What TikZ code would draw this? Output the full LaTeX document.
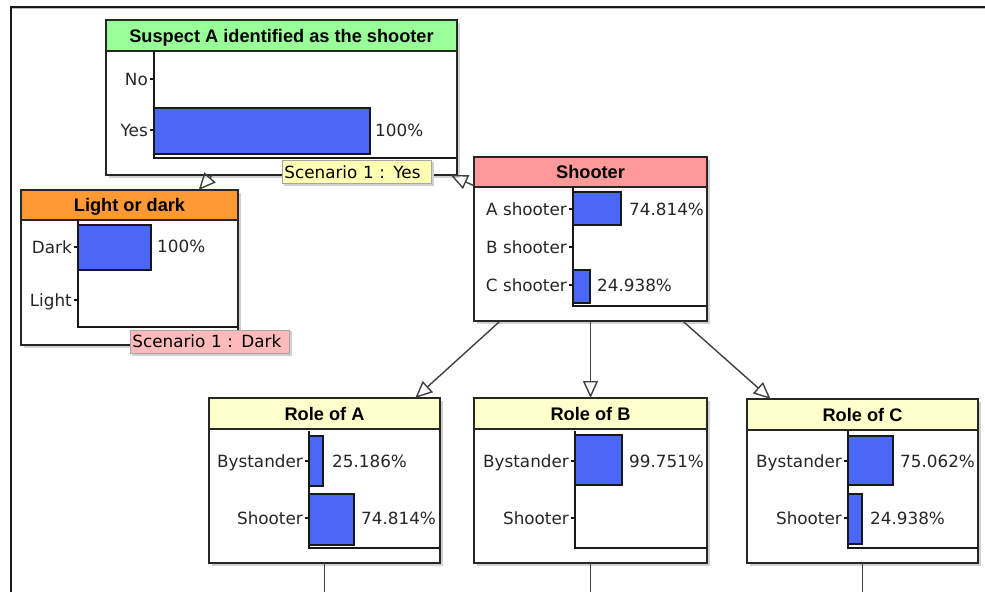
\documentclass[tikz,border=0pt]{standalone}
\usepackage{fontspec}
\setmainfont{DejaVu Sans}
\newfontfamily\headfont{Liberation Sans}
\usetikzlibrary{arrows.meta,calc,positioning}
\definecolor{hdrgreen}{RGB}{153,255,153}
\definecolor{hdrorange}{RGB}{255,153,51}
\definecolor{hdrpink}{RGB}{255,153,153}
\definecolor{hdryellow}{RGB}{255,255,204}
\definecolor{barblue}{RGB}{74,104,245}
\definecolor{scenyellow}{RGB}{255,255,180}
\definecolor{scenpink}{RGB}{255,187,187}
\tikzset{
  line join=miter,
  boxline/.style={draw=black!85, line width=1.5pt},
  nodebox/.style={boxline, fill=white, inner sep=0pt, outer sep=0pt},
  dropshade/.style={fill=black!18},
  headtext/.style={font=\headfont\bfseries\fontsize{18.2}{20}\selectfont, inner sep=0pt, anchor=base},
  statetext/.style={font=\fontsize{16.8}{19}\selectfont, text=black!85, inner sep=0pt, anchor=base east},
  valtext/.style={font=\fontsize{16.8}{19}\selectfont, text=black!85, inner sep=0pt, anchor=base west},
  probbar/.style={draw=black!90, line width=1.3pt, fill=barblue},
  axisline/.style={draw=black!90, line width=1.3pt},
  linkline/.style={draw=black!75, line width=1.4pt},
  link/.style={linkline, -{Triangle[open, length=17pt, width=15pt, line width=1.4pt]}},
  scenario/.style={draw=black!35, line width=0.8pt, inner xsep=2pt, inner ysep=0pt,
    minimum height=23pt, align=left, anchor=north west, font=\fontsize{16.8}{19}\selectfont}
}
% node frame: name, left, top, right, bottom, header bottom, colour, title
\newcommand{\bnnode}[8]{%
  \fill[dropshade] (#2+3,#3+3) rectangle (#4+3,#5+3);
  \node[nodebox, minimum width=#4-#2, minimum height=#5-#3] (#1) at ({(#2+#4)/2},{(#3+#5)/2}) {};
  \draw[boxline, fill=#7] (#2,#3) rectangle (#4,#6);
  \node[headtext] at ({(#2+#4)/2},{(#3+#6)/2+6.5}) {#8};
}
% tick and state name: axis x, row y, name
\newcommand{\staterow}[3]{%
  \draw[axisline] (#1-4,#2) -- (#1,#2);
  \node[statetext] at (#1-6,#2+6) {#3};
}
% bar and value: axis x, bar top, bar right, bar bottom, value x, row y, value
\newcommand{\probrow}[7]{%
  \draw[probbar] (#1,#2) rectangle (#3,#4);
  \node[valtext] at (#5,#6+6) {#7};
}

\begin{document}
\begin{tikzpicture}[x=1pt, y=-1pt]
  \useasboundingbox (0,0) rectangle (985,592);

  % window frame
  \draw[black!25, line width=1.2pt] (11,8.8) -- (985,8.8);
  \draw[black!90, line width=2pt] (10.5,592) -- (10.5,6.5) -- (985,6.5);

  % Suspect A identified as the shooter
  \bnnode{sa}{106}{20}{457}{175}{51}{hdrgreen}{Suspect A identified as the shooter}
  \draw[axisline] (154,51) -- (154,158) -- (457,158);
  \staterow{154}{79}{No}
  \staterow{154}{130}{Yes}
  \probrow{154}{108}{370}{154}{375}{130}{100\%}

  % Light or dark
  \bnnode{lod}{21}{190}{238}{345}{220}{hdrorange}{Light or dark}
  \draw[axisline] (78,220) -- (78,327) -- (238,327);
  \staterow{78}{247}{Dark}
  \staterow{78}{300}{Light}
  \probrow{78}{225}{151}{270}{157}{246}{100\%}

  % Shooter
  \bnnode{sh}{474}{157}{707}{321}{187}{hdrpink}{Shooter}
  \draw[axisline] (573,187) -- (573,306) -- (707,306);
  \staterow{573}{209}{A shooter}
  \staterow{573}{247}{B shooter}
  \staterow{573}{285}{C shooter}
  \probrow{573}{192}{621}{225}{629}{209}{74.814\%}
  \probrow{573}{270}{590}{303}{597}{285}{24.938\%}

  % Role of A
  \bnnode{ra}{209}{398}{440}{563}{429}{hdryellow}{Role of A}
  \draw[axisline] (309,431) -- (309,548) -- (440,548);
  \staterow{309}{461}{Bystander}
  \staterow{309}{518}{Shooter}
  \probrow{309}{436}{323}{486}{332}{461}{25.186\%}
  \probrow{309}{494}{354}{545}{361}{518}{74.814\%}

  % Role of B
  \bnnode{rb}{474}{398}{707}{563}{429}{hdryellow}{Role of B}
  \draw[axisline] (575,431) -- (575,548) -- (707,548);
  \staterow{575}{461}{Bystander}
  \staterow{575}{518}{Shooter}
  \probrow{575}{435}{622}{485}{629}{461}{99.751\%}

  % Role of C
  \bnnode{rc}{747}{399}{978}{563}{430}{hdryellow}{Role of C}
  \draw[axisline] (848,431) -- (848,548) -- (978,548);
  \staterow{848}{461}{Bystander}
  \staterow{848}{518}{Shooter}
  \probrow{848}{436}{893}{485}{900}{461}{75.062\%}
  \probrow{848}{494}{862}{544}{870}{518}{24.938\%}

  % links
  \draw[link] (sa) -- (lod);
  \draw[link] (sh) -- (sa);
  \draw[link] (sh) -- (ra);
  \draw[link] (sh) -- (rb);
  \draw[link] (sh) -- (rc);

  \coordinate (ra-out) at (324.5,592);
  \coordinate (rb-out) at (590.5,592);
  \coordinate (rc-out) at (862.5,592);
  \draw[linkline] (ra) -- (ra-out);
  \draw[linkline] (rb) -- (rb-out);
  \draw[linkline] (rc) -- (rc-out);

  % scenario labels
  \fill[dropshade] (284,162) rectangle (434,186);
  \node[scenario, fill=scenyellow, text width=145pt] (sa-scen) at (282,160) {Scenario 1 : Yes};
  \fill[dropshade] (132,331) rectangle (292,356);
  \node[scenario, fill=scenpink, text width=155pt] (lod-scen) at (130,329.5) {Scenario 1 : Dark};
\end{tikzpicture}
\end{document}
